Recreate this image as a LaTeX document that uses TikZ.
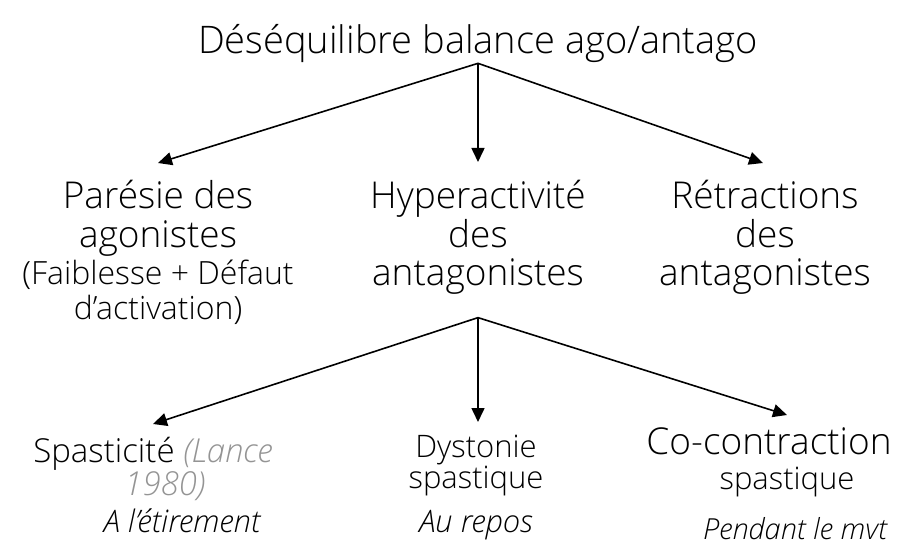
\documentclass[tikz,border=0pt]{standalone}
\usepackage{fontspec}
\setmainfont{Open Sans Light}[ItalicFont={Open Sans Light Italic}]
\usetikzlibrary{arrows.meta, positioning}
\definecolor{refgray}{gray}{0.58}

\begin{document}
\begin{tikzpicture}[x=1pt, y=-1pt,
  every node/.style={inner sep=0pt, align=center},
  titre/.style={font=\fontsize{38}{44}\selectfont},
  branche/.style={font=\fontsize{37}{38.5}\selectfont, anchor=north},
  feuille/.style={font=\fontsize{31}{30.5}\selectfont, anchor=north},
  fleche/.style={-{Triangle[length=14pt,width=13pt]}, line width=1.6pt}]
  \useasboundingbox (0,0) rectangle (902,545);

  \node[titre, anchor=base] (desequ) at (478,54) {Déséquilibre balance ago/antago};

  \node[branche] (paresie) at (158,180) {Parésie des\\agonistes};
  \node[below=4pt of paresie, font=\fontsize{32}{35}\selectfont] (defaut) {(Faiblesse + Défaut\\d’activation)};
  \node[branche] (hyper) at (478,180) {Hyperactivité\\des\\antagonistes};
  \node[branche] (retract) at (765,180) {Rétractions\\des\\antagonistes};

  \node[feuille, font=\fontsize{33}{30}\selectfont] (spast) at (153,437)
    {Spasticité {\color{refgray}\itshape (Lance}\\\hspace*{24pt}{\color{refgray}\itshape 1980)}};
  \node[feuille] (dyst) at (476,435) {Dystonie\\spastique};
  \node[feuille, font=\fontsize{31}{35}\selectfont] (cocon) at (769,427)
    {{\fontsize{37}{35}\selectfont Co-contraction}\\\hspace*{36pt}spastique};
  \node[below=8pt of spast, xshift=29pt, font=\fontsize{31}{30}\selectfont\itshape] (etire) {A l’étirement};
  \node[below=14pt of dyst, font=\fontsize{31}{30}\selectfont\itshape] (repos) {Au repos};
  \node[below=20.5pt of cocon, xshift=26pt, font=\fontsize{29}{30}\selectfont\itshape] (mvt) {Pendant le mvt};

  \foreach \n/\dx/\dy in {paresie/0/17, hyper/0/18, retract/-2/17}{
    \draw[fleche] (desequ.south) -- ([xshift=\dx pt, yshift=\dy pt]\n.north);
  }
  \foreach \n/\dx/\dy in {spast/0/13, dyst/2/13, cocon/18/12}{
    \draw[fleche] ([yshift=-23pt]hyper.south) -- ([xshift=\dx pt, yshift=\dy pt]\n.north);
  }
\end{tikzpicture}
\end{document}
